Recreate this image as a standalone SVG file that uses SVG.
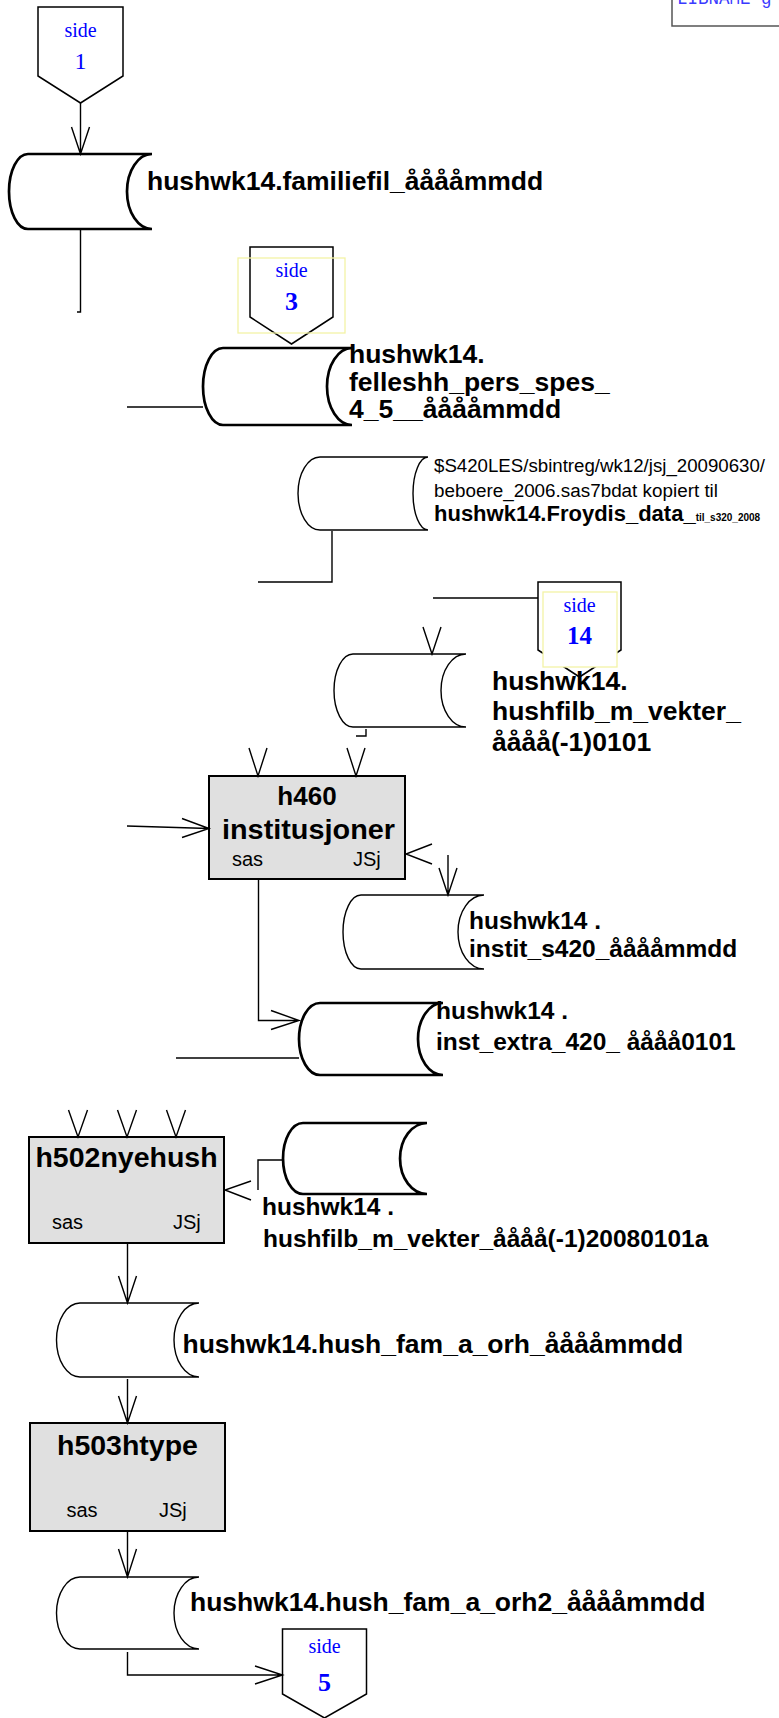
<svg xmlns="http://www.w3.org/2000/svg" width="779" height="1718" viewBox="0 0 779 1718">
<style>
.bg{fill:#ffffff}
.pent{fill:#ffffff;stroke:#000;stroke-width:1.5}
.yel{fill:none;stroke:#f3f3a6;stroke-width:1.3}
.yelw{fill:#ffffff;stroke:#f3f3a6;stroke-width:1.3}
.cylk{fill:#ffffff;stroke:#000;stroke-width:2.7}
.cyln{fill:#ffffff;stroke:#000;stroke-width:1.4}
.box{fill:#e0e0e0;stroke:#000;stroke-width:2}
.ln{fill:none;stroke:#000;stroke-width:1.4}
.side{font-family:"Liberation Serif","Times New Roman",serif;fill:#0000ff;text-anchor:middle}
.lbl{font-family:"Liberation Sans",Arial,sans-serif;font-weight:bold;fill:#000}
.reg{font-family:"Liberation Sans",Arial,sans-serif;fill:#000}
.mono{font-family:"Liberation Mono","Courier New",monospace;fill:#3a3aff}
</style>
<rect class="bg" x="0" y="0" width="779" height="1718"/>

<g id="libname">
<rect x="672" y="-10" width="120" height="36" fill="#ffffff" stroke="#555" stroke-width="1.5"/>
<text class="mono" x="677" y="4" font-size="17.5">LIBNAME g</text>
</g>

<g id="side1">
<polygon class="pent" points="38,7 123,7 123,76 80.5,103 38,76"/>
<text class="side" x="80.5" y="37" font-size="20">side</text>
<text class="side" x="80.5" y="69" font-size="24">1</text>
</g>

<g id="cyl1">
<path class="cylk" d="M152,154 H28 A19,37.5 0 0 0 28,229 H152 M152,154 A25,37.5 0 0 0 152,229"/>
<text class="lbl" x="147" y="190" font-size="26.5">hushwk14.familiefil_ååååmmdd</text>
</g>

<g id="side3">
<polygon class="pent" points="250,247 333,247 333,317 291.5,344 250,317"/>
<rect class="yel" x="238" y="258" width="107" height="75"/>
<text class="side" x="291.5" y="277" font-size="20">side</text>
<text class="side" x="291.5" y="310" font-size="26" font-weight="bold">3</text>
</g>

<g id="cyl2">
<path class="cylk" d="M352,348 H223 A20,38.5 0 0 0 223,425 H352 M352,348 A25,38.5 0 0 0 352,425"/>
<text class="lbl" x="349" y="363" font-size="26.5">hushwk14.</text>
<text class="lbl" x="349" y="391" font-size="26.5">felleshh_pers_spes_</text>
<text class="lbl" x="349" y="418" font-size="26.5">4_5__ååååmmdd</text>
</g>

<g id="cyl3">
<path class="cyln" d="M428,457 H320 A22,36.5 0 0 0 320,530 H428 M428,457 A15,36.5 0 0 0 428,530"/>
<text class="reg" x="434" y="472" font-size="18" textLength="331" lengthAdjust="spacingAndGlyphs">$S420LES/sbintreg/wk12/jsj_20090630/</text>
<text class="reg" x="434" y="497" font-size="18" textLength="284" lengthAdjust="spacingAndGlyphs">beboere_2006.sas7bdat  kopiert til</text>
<text class="lbl" x="434" y="521" font-size="22">hushwk14.Froydis_data_<tspan font-size="10">til_s320_2008</tspan></text>
</g>

<g id="side14">
<polygon class="pent" points="538,582 621,582 621,650 579.5,677 538,650"/>
<rect class="yelw" x="543" y="592" width="74" height="75"/>
<text class="side" x="579.5" y="612" font-size="20">side</text>
<text class="side" x="579.5" y="644" font-size="25" font-weight="bold">14</text>
</g>

<g id="cyl4">
<path class="cyln" d="M466,654 H353 A19,36.5 0 0 0 353,727 H466 M466,654 A25,36.5 0 0 0 466,727"/>
<text class="lbl" x="492" y="690" font-size="26.5">hushwk14.</text>
<text class="lbl" x="492" y="720" font-size="26.5">hushfilb_m_vekter_</text>
<text class="lbl" x="492" y="751" font-size="26.5">åååå(-1)0101</text>
</g>

<g id="h460">
<rect class="box" x="209" y="776" width="196" height="103"/>
<text class="lbl" x="307" y="805" font-size="26" text-anchor="middle">h460</text>
<text class="lbl" x="222" y="839" font-size="27" textLength="173" lengthAdjust="spacingAndGlyphs">institusjoner</text>
<text class="reg" x="232" y="866" font-size="20">sas</text>
<text class="reg" x="353" y="866" font-size="20">JSj</text>
</g>

<g id="cyl5">
<path class="cyln" d="M484,895 H361 A18,37 0 0 0 361,969 H484 M484,895 A26,37 0 0 0 484,969"/>
<text class="lbl" x="469" y="929" font-size="24.5">hushwk14 .</text>
<text class="lbl" x="469" y="957" font-size="24.5">instit_s420_ååååmmdd</text>
</g>

<g id="cyl6">
<path class="cylk" d="M443,1003 H320 A21,36 0 0 0 320,1075 H443 M443,1003 A25,36 0 0 0 443,1075"/>
<text class="lbl" x="436" y="1019" font-size="24.5">hushwk14 .</text>
<text class="lbl" x="436" y="1050" font-size="24.5">inst_extra_420_ åååå0101</text>
</g>

<g id="h502">
<rect class="box" x="29" y="1137" width="195" height="106"/>
<text class="lbl" x="126.5" y="1167" font-size="28.5" text-anchor="middle">h502nyehush</text>
<text class="reg" x="52" y="1229" font-size="20">sas</text>
<text class="reg" x="173" y="1229" font-size="20">JSj</text>
</g>

<g id="cyl7">
<path class="cylk" d="M427,1123 H303 A20,35.5 0 0 0 303,1194 H427 M427,1123 A27,35.5 0 0 0 427,1194"/>
<text class="lbl" x="262" y="1215" font-size="24.5">hushwk14 .</text>
<text class="lbl" x="263" y="1247" font-size="24.5">hushfilb_m_vekter_åååå(-1)20080101a</text>
</g>

<g id="cyl8">
<path class="cyln" d="M199,1303 H80 A23.5,37 0 0 0 80,1377 H199 M199,1303 A25,37 0 0 0 199,1377"/>
<text class="lbl" x="182.5" y="1353" font-size="26.5">hushwk14.hush_fam_a_orh_ååååmmdd</text>
</g>

<g id="h503">
<rect class="box" x="30" y="1423" width="195" height="108"/>
<text class="lbl" x="127.5" y="1455" font-size="28.5" text-anchor="middle">h503htype</text>
<text class="reg" x="66.5" y="1517" font-size="20">sas</text>
<text class="reg" x="159" y="1517" font-size="20">JSj</text>
</g>

<g id="cyl9">
<path class="cyln" d="M199,1577 H80 A23.5,36 0 0 0 80,1649 H199 M199,1577 A25,36 0 0 0 199,1649"/>
<text class="lbl" x="190" y="1611" font-size="26.5">hushwk14.hush_fam_a_orh2_ååååmmdd</text>
</g>

<g id="side5">
<polygon class="pent" points="282.5,1629 366.5,1629 366.5,1694 324.5,1718 282.5,1694"/>
<text class="side" x="324.5" y="1653" font-size="20">side</text>
<text class="side" x="324.5" y="1691" font-size="26" font-weight="bold">5</text>
</g>

<g id="connectors">
<path class="ln" d="M80.5,103 V154 M71.5,127 L80.5,154 L89.5,127"/>
<path class="ln" d="M80.5,230 V312 H77"/>
<path class="ln" d="M127,407 H203"/>
<path class="ln" d="M332,531 V582 H258"/>
<path class="ln" d="M433,598 H538"/>
<path class="ln" d="M423,627 L432,654 L441,627"/>
<path class="ln" d="M356,736 H366 V729"/>
<path class="ln" d="M249,748 L258,776 L267,748 M347,748 L356,776 L365,748"/>
<path class="ln" d="M127,826 L209,828.5 M182,818.5 L209,828.5 L182,837.5"/>
<path class="ln" d="M432,844 L406,854 L432,864"/>
<path class="ln" d="M448,855 V895 M439,868 L448,895 L457,868"/>
<path class="ln" d="M258.5,880 V1020.5 H299 M271,1010.5 L299,1020.5 L271,1029.5"/>
<path class="ln" d="M176,1058 H299"/>
<path class="ln" d="M68.5,1110 L78,1137 L87.5,1110 M117.5,1110 L127,1137 L136.5,1110 M166.5,1110 L176,1137 L185.5,1110"/>
<path class="ln" d="M283,1160 H258 V1190 M251,1181 L225,1190 L251,1200"/>
<path class="ln" d="M127.5,1243 V1303 M118.5,1276 L127.5,1303 L136.5,1276"/>
<path class="ln" d="M127.5,1379 V1423 M118.5,1396 L127.5,1423 L136.5,1396"/>
<path class="ln" d="M127.5,1531 V1577 M118.5,1549 L127.5,1577 L136.5,1549"/>
<path class="ln" d="M127.5,1652 V1675 H282.5 M255,1666 L282.5,1675 L255,1684"/>
</g>
</svg>
